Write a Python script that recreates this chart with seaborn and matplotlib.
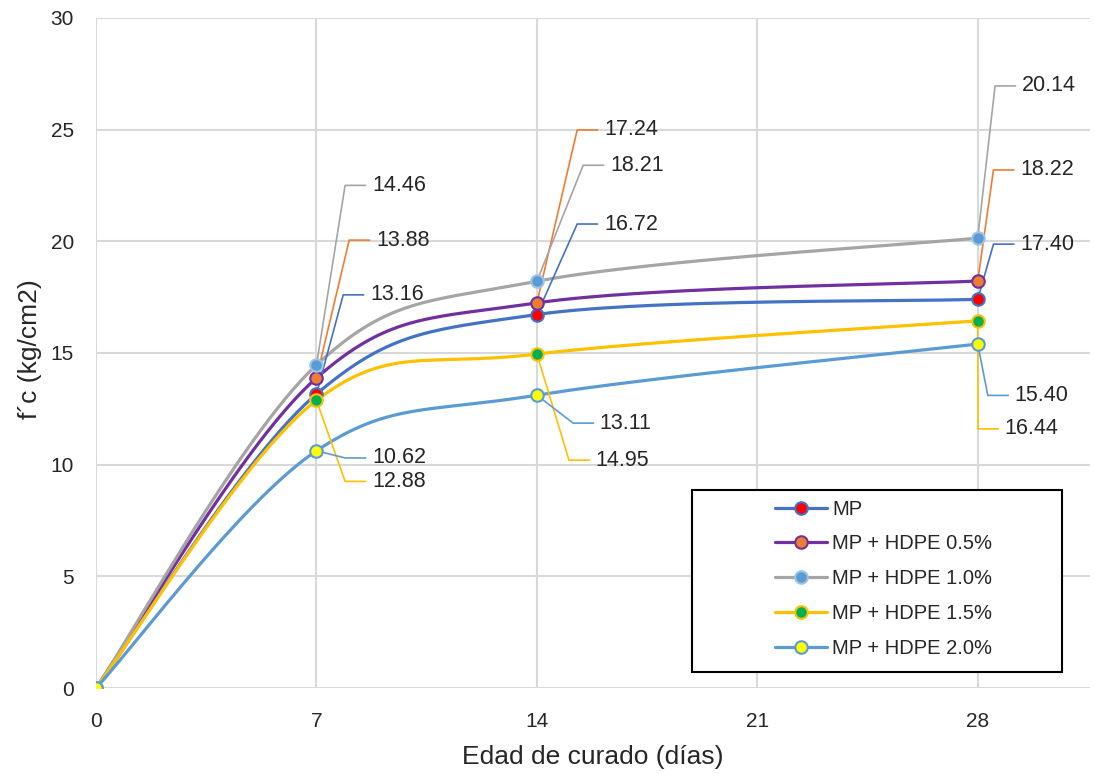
import numpy as np
import matplotlib
matplotlib.use('Agg')
import matplotlib.pyplot as plt
import seaborn as sns
import pandas as pd
from matplotlib.lines import Line2D
from matplotlib.patches import Rectangle

# ---------- Data ----------
dias = [0, 7, 14, 28]
series = ['MP', 'MP + HDPE 0.5%', 'MP + HDPE 1.0%', 'MP + HDPE 1.5%', 'MP + HDPE 2.0%']
mp = [0, 13.16, 16.72, 17.40]
hdpe_05 = [0, 13.88, 17.24, 18.22]
hdpe_10 = [0, 14.46, 18.21, 20.14]
hdpe_15 = [0, 12.88, 14.95, 16.44]
hdpe_20 = [0, 10.62, 13.11, 15.40]
valores = [mp, hdpe_05, hdpe_10, hdpe_15, hdpe_20]

# ---------- Styles ----------
line_colors = ['#4472C4', '#7030A0', '#A5A5A5', '#FFC000', '#5B9BD5']
face_colors = ['#FF0000', '#ED7D31', '#5B9BD5', '#00B050', '#FFFF00']
edge_colors = ['#4472C4', '#7030A0', '#9DC3E6', '#FFC000', '#5B9BD5']
leader_colors = ['#4472C4', '#ED7D31', '#A5A5A5', '#FFC000', '#5B9BD5']

# label positions (x, y) for the points at 7, 14, 28 days
label_pos = [
    [(8.70, 17.6), (16.13, 20.77), (29.35, 19.87)],
    [(8.89, 20.05), (16.13, 24.98), (29.35, 23.19)],
    [(8.76, 22.5), (16.32, 23.4), (29.40, 26.95)],
    [(8.76, 9.25), (15.87, 10.2), (28.86, 11.6)],
    [(8.76, 10.3), (16.0, 11.86), (29.17, 13.1)],
]


def excel_smooth(x, y, n=60):
    # bezier smoothing like the excel "smoothed line" option
    pts = np.column_stack([x, y]).astype(float)
    P = np.vstack([pts[0], pts, pts[-1]])
    out = []
    t = np.linspace(0, 1, n)[:, None]
    for i in range(1, len(P) - 2):
        p0, p1, p2, p3 = P[i - 1], P[i], P[i + 1], P[i + 2]
        c1 = p1 + (p2 - p0) / 6
        c2 = p2 - (p3 - p1) / 6
        seg = ((1 - t) ** 3 * p1 + 3 * (1 - t) ** 2 * t * c1
               + 3 * (1 - t) * t ** 2 * c2 + t ** 3 * p2)
        out.append(seg)
    return np.vstack(out)


sns.set_style('white')
plt.rcParams['font.family'] = ['Liberation Sans', 'DejaVu Sans']

fig = plt.figure(figsize=(10.95, 7.74), dpi=100)
ax = fig.add_axes([0.0877, 0.111, 0.9073, 0.866])

for i, name in enumerate(series):
    curve = excel_smooth(dias, valores[i])
    df = pd.DataFrame({'x': curve[:, 0], 'y': curve[:, 1]})
    sns.lineplot(data=df, x='x', y='y', sort=False, estimator=None,
                 color=line_colors[i], lw=2.3, ax=ax, zorder=3)

# leader lines + labels
for i, name in enumerate(series):
    for j, (lx, ly) in enumerate(label_pos[i]):
        px, py = dias[j + 1], valores[i][j + 1]
        ax.plot([px, lx - 0.85, lx - 0.2], [py, ly, ly],
                color=leader_colors[i], lw=1.2, zorder=4)
        ax.text(lx, ly, f'{valores[i][j + 1]:.2f}', fontsize=15.5,
                va='center', ha='left', color='#262626', zorder=6)

# markers
for i, name in enumerate(series):
    ax.plot(dias, valores[i], ls='none', marker='o', ms=9,
            mfc=face_colors[i], mec=edge_colors[i], mew=1.5, zorder=5)

ax.set_xlim(0, 31.55)
ax.set_ylim(0, 30)
ax.set_xticks([0, 7, 14, 21, 28])
ax.set_yticks(range(0, 31, 5))
ax.grid(True, color='#D9D9D9', lw=1.5)
ax.set_axisbelow(True)
for s in ax.spines.values():
    s.set_visible(False)
ax.tick_params(axis='both', length=0, labelsize=15, colors='#262626')
ax.tick_params(axis='x', pad=17)
ax.tick_params(axis='y', pad=16)
ax.set_xlabel('Edad de curado (días)', fontsize=19, color='#262626')
ax.set_ylabel('f´c (kg/cm2)', fontsize=19, color='#262626')
ax.xaxis.set_label_coords(0.5, -0.085)
ax.yaxis.set_label_coords(-0.054, 0.505)

# legend box
ax.add_patch(Rectangle((0.6, 0.024), 0.372, 0.272, transform=ax.transAxes,
                       fill=True, facecolor='white', edgecolor='black',
                       lw=1.5, zorder=7, clip_on=False))
handles = [Line2D([0], [0], color=line_colors[i], lw=2.3, marker='o', ms=9,
                  mfc=face_colors[i], mec=edge_colors[i], mew=1.5)
           for i in range(len(series))]
leg = ax.legend(handles, series, loc='upper left', bbox_to_anchor=(0.675, 0.293),
                frameon=False, fontsize=14.5, handlelength=2.6, labelspacing=0.78,
                handletextpad=0.25, borderaxespad=0)
leg.set_zorder(8)

fig.savefig('out.png', dpi=100)
